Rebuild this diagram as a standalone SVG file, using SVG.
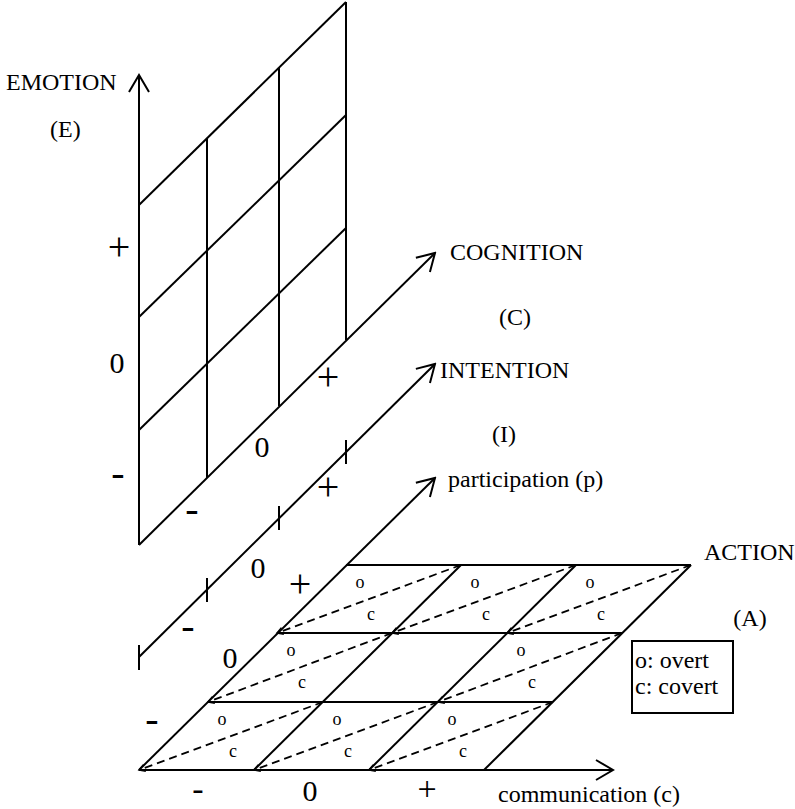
<svg xmlns="http://www.w3.org/2000/svg" width="795" height="809" viewBox="0 0 795 809">
<style>
.ln{stroke:#000;stroke-width:2;fill:none;stroke-linecap:butt}
.ds{stroke:#000;stroke-width:1.8;fill:none;stroke-dasharray:8 5}
.t{font-family:"Liberation Serif","Times New Roman",serif;font-size:24px;fill:#000}
.s{font-family:"Liberation Serif","Times New Roman",serif;font-size:18px;fill:#000;text-anchor:middle}
.z{font-family:"Liberation Serif","Times New Roman",serif;font-size:30px;fill:#000;text-anchor:middle}
.p{font-family:"Liberation Serif","Times New Roman",serif;font-size:40px;fill:#000;text-anchor:middle}
.q{font-family:"Liberation Serif","Times New Roman",serif;font-size:34px;fill:#000;text-anchor:middle}
.m{text-anchor:middle}
</style>
<defs>
<marker id="arr" viewBox="-19 -12 21 24" markerWidth="21" markerHeight="24" refX="0" refY="0" orient="auto" markerUnits="userSpaceOnUse">
<path d="M -17 -10 L 0 0 L -17 10" fill="none" stroke="#000" stroke-width="2"/>
</marker>
<marker id="sm" viewBox="-8 -5 10 10" markerWidth="10" markerHeight="10" refX="0" refY="0" orient="auto" markerUnits="userSpaceOnUse">
<path d="M -6 -3.5 L 0 0 L -6 3.5" fill="none" stroke="#000" stroke-width="1.5"/>
</marker>
</defs>

<g id="emotion-plane">
<line class="ln" x1="207" y1="478" x2="207" y2="138"/>
<line class="ln" x1="279" y1="406" x2="279" y2="68"/>
<line class="ln" x1="346" y1="340" x2="346" y2="2"/>
<line class="ln" x1="139" y1="205" x2="346" y2="2"/>
<line class="ln" x1="139" y1="317" x2="346" y2="115"/>
<line class="ln" x1="139" y1="430" x2="346" y2="228"/>
</g>

<g id="action-grid">
<line class="ln" x1="208" y1="702" x2="553" y2="702"/>
<line class="ln" x1="277" y1="633" x2="622" y2="633"/>
<line class="ln" x1="346" y1="565" x2="691" y2="565"/>
<line class="ln" x1="254" y1="770" x2="461" y2="565"/>
<line class="ln" x1="369" y1="770" x2="576" y2="565"/>
<line class="ln" x1="484" y1="770" x2="691" y2="565"/>
</g>

<g id="connectors">
<line class="ln" x1="139" y1="545" x2="139" y2="75" marker-end="url(#arr)"/>
<line class="ln" x1="139" y1="545" x2="435" y2="253" marker-end="url(#arr)"/>
<line class="ln" x1="139" y1="657" x2="435" y2="364" marker-end="url(#arr)"/>
<line class="ln" x1="139" y1="770" x2="435" y2="478" marker-end="url(#arr)"/>
<line class="ln" x1="139" y1="770" x2="613" y2="770" marker-end="url(#arr)"/>
<line class="ln" x1="139" y1="645" x2="139" y2="670"/>
<line class="ln" x1="207" y1="578" x2="207" y2="602"/>
<line class="ln" x1="279" y1="506" x2="279" y2="530"/>
<line class="ln" x1="346" y1="440" x2="346" y2="464"/>
<line class="ds" x1="323" y1="702" x2="139" y2="770" marker-end="url(#sm)"/>
<line class="ds" x1="438" y1="702" x2="254" y2="770" marker-end="url(#sm)"/>
<line class="ds" x1="553" y1="702" x2="369" y2="770" marker-end="url(#sm)"/>
<line class="ds" x1="392" y1="633" x2="208" y2="702" marker-end="url(#sm)"/>
<line class="ds" x1="622" y1="633" x2="438" y2="702" marker-end="url(#sm)"/>
<line class="ds" x1="461" y1="565" x2="277" y2="633" marker-end="url(#sm)"/>
<line class="ds" x1="576" y1="565" x2="392" y2="633" marker-end="url(#sm)"/>
<line class="ds" x1="691" y1="565" x2="507" y2="633" marker-end="url(#sm)"/>
</g>

<g id="cell-labels">
<text class="s" x="222" y="725">o</text><text class="s" x="233" y="757">c</text>
<text class="s" x="337" y="725">o</text><text class="s" x="348" y="757">c</text>
<text class="s" x="452" y="725">o</text><text class="s" x="463" y="757">c</text>
<text class="s" x="291" y="656">o</text><text class="s" x="302" y="688">c</text>
<text class="s" x="521" y="656">o</text><text class="s" x="532" y="688">c</text>
<text class="s" x="360" y="588">o</text><text class="s" x="371" y="620">c</text>
<text class="s" x="475" y="588">o</text><text class="s" x="486" y="620">c</text>
<text class="s" x="590" y="588">o</text><text class="s" x="601" y="620">c</text>
</g>

<g id="scale-labels">
<text class="p" x="119" y="260">+</text>
<text class="z" x="117" y="373">0</text>
<text class="p" x="118" y="486">-</text>
<text class="p" x="192" y="522">-</text>
<text class="z" x="262" y="457">0</text>
<text class="p" x="328" y="390">+</text>
<text class="p" x="188" y="639">-</text>
<text class="z" x="258" y="578">0</text>
<text class="p" x="328" y="500">+</text>
<text class="p" x="152" y="732">-</text>
<text class="z" x="230" y="668">0</text>
<text class="p" x="300" y="597">+</text>
<text class="q" x="198" y="800">-</text>
<text class="z" x="310" y="801">0</text>
<text class="q" x="427" y="800">+</text>
</g>

<g id="axis-labels">
<text class="t" x="6" y="90">EMOTION</text>
<text class="t" x="50" y="137">(E)</text>
<text class="t" x="450" y="260">COGNITION</text>
<text class="t m" x="515" y="325">(C)</text>
<text class="t" x="440" y="378">INTENTION</text>
<text class="t m" x="504" y="442">(I)</text>
<text class="t" x="448" y="487">participation (p)</text>
<text class="t" x="704" y="560">ACTION</text>
<text class="t m" x="750" y="626">(A)</text>
<text class="t" x="498" y="802">communication (c)</text>
</g>

<g id="legend">
<rect class="ln" x="632" y="641" width="101" height="72"/>
<text class="t" x="635" y="668">o: overt</text>
<text class="t" x="635" y="694">c: covert</text>
</g>
</svg>
